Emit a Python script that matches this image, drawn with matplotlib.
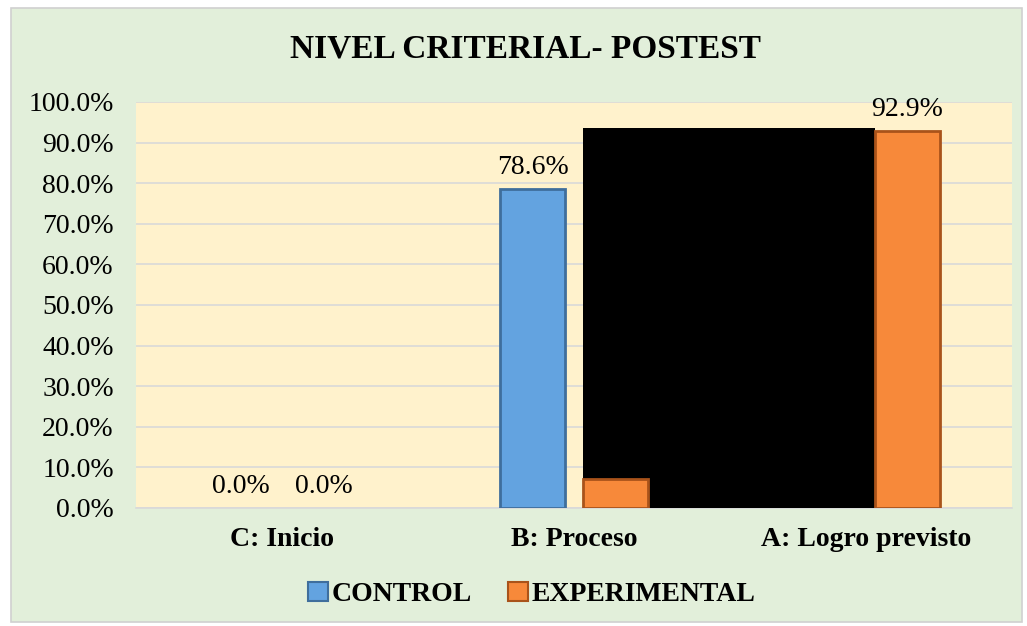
import matplotlib
matplotlib.use("Agg")
import matplotlib.pyplot as plt
from matplotlib.patches import Rectangle, Patch
from matplotlib.ticker import FuncFormatter
import numpy as np

categories = ["C: Inicio", "B: Proceso", "A: Logro previsto"]
series_names = ["CONTROL", "EXPERIMENTAL"]
control = [0.0, 78.6, 21.4]
experimental = [0.0, 7.1, 92.9]
yticks = [0, 10, 20, 30, 40, 50, 60, 70, 80, 90, 100]

plt.rcParams['font.family'] = ['Liberation Serif', 'DejaVu Serif']

fig = plt.figure(figsize=(10.27, 6.26), dpi=100, facecolor="white")
bg = Rectangle((0.011, 0.006), 0.984, 0.981, transform=fig.transFigure,
               facecolor="#E2EFDA", edgecolor="#D0D0D0", linewidth=1.2, zorder=-10)
fig.add_artist(bg)

ax = fig.add_axes([0.1324, 0.1885, 0.853, 0.6486])
ax.set_facecolor("#FFF2CC")

x = np.arange(len(categories))
w = 0.223
off = 0.142
blue, blue_edge = "#63A3E0", "#3F6E9C"
orange, orange_edge = "#F7893A", "#A9531A"
lw_c = [0 if v == 0 else 2.0 for v in control]
lw_e = [0 if v == 0 else 2.0 for v in experimental]
bc = ax.bar(x - off, control, w, color=blue, edgecolor=blue_edge, linewidth=lw_c, zorder=3)
be = ax.bar(x + off, experimental, w, color=orange, edgecolor=orange_edge, linewidth=lw_e, zorder=6)

for xi, v in zip(x - off, control):
    ax.text(xi, v + 2.2, f"{v:.1f}%", ha="center", va="bottom", fontsize=20, zorder=4)
for xi, v in zip(x + off, experimental):
    ax.text(xi, v + 2.2, f"{v:.1f}%", ha="center", va="bottom", fontsize=20, zorder=4)

# black occluding block visible in the reference
x0 = x[1] + off - w / 2
x1 = x[2] + off - w / 2
ax.add_patch(Rectangle((x0, 0), x1 - x0, experimental[2] + 0.6, facecolor="black",
                       edgecolor="none", zorder=5))

ax.set_xlim(-0.5, 2.5)
ax.set_ylim(0, 100)
ax.set_yticks(yticks)
ax.yaxis.set_major_formatter(FuncFormatter(lambda v, p: f"{v:.1f}%"))
ax.grid(axis="y", color="#D9D9D9", linewidth=1.2, zorder=0)
ax.set_axisbelow(True)
ax.set_xticks(x)
ax.set_xticklabels(categories, fontsize=20, fontweight="bold")
ax.tick_params(axis="y", labelsize=20, length=0, pad=16)
ax.tick_params(axis="x", length=0, pad=14)
for s in ["top", "right", "left"]:
    ax.spines[s].set_visible(False)
ax.spines["bottom"].set_color("#D9D9D9")
ax.spines["bottom"].set_linewidth(1.2)

fig.text(0.512, 0.922, "NIVEL CRITERIAL- POSTEST", ha="center", va="center",
         fontsize=24, fontweight="bold")

handles = [Patch(facecolor=blue, edgecolor=blue_edge, linewidth=1.5),
           Patch(facecolor=orange, edgecolor=orange_edge, linewidth=1.5)]
leg = fig.legend(handles=handles, labels=series_names, loc="center", bbox_to_anchor=(0.518, 0.05),
                 ncol=2, frameon=False, prop={"size": 20, "weight": "bold"},
                 handlelength=0.7, handleheight=0.7, handletextpad=0.15, columnspacing=1.3)

fig.savefig("out.png", dpi=100, facecolor="white")
